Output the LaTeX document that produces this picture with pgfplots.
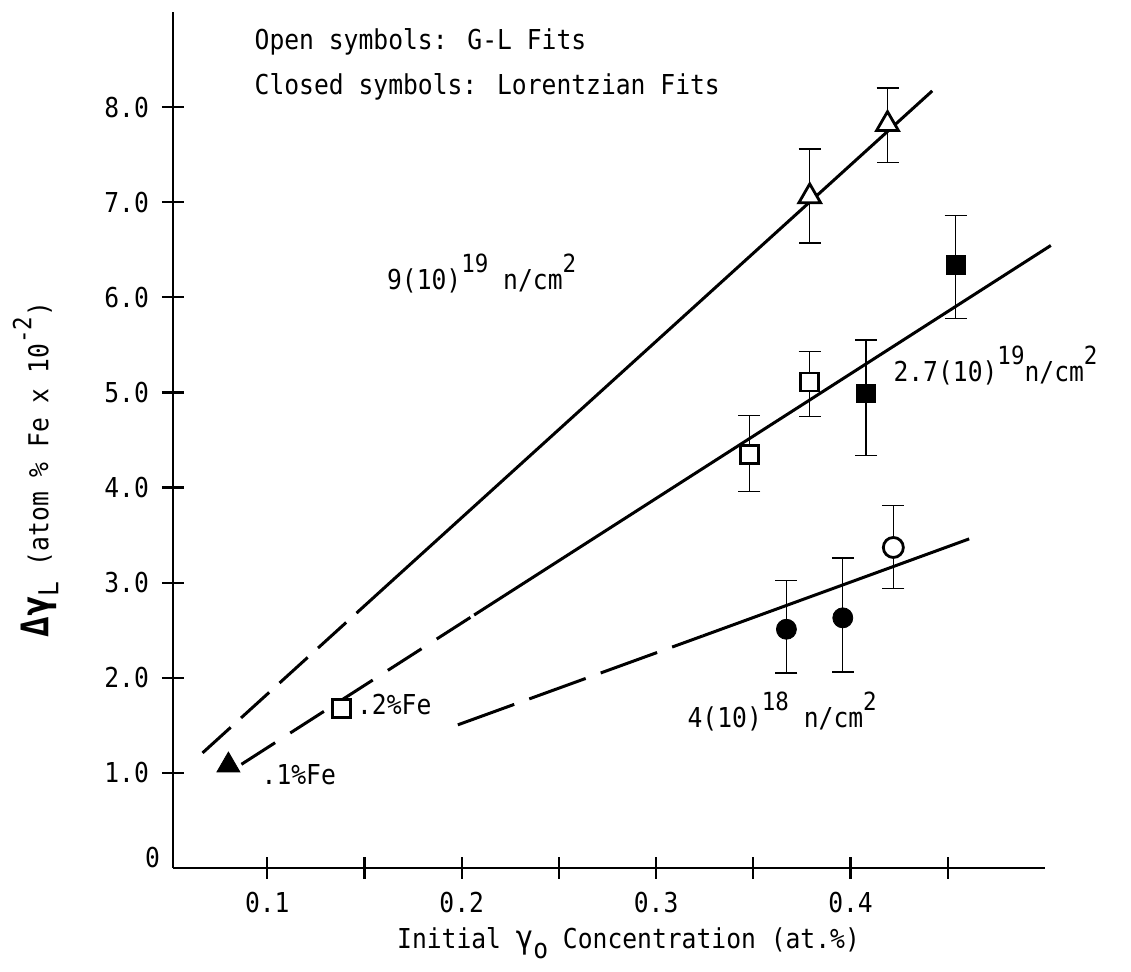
\documentclass[border=0pt]{standalone}
\usepackage{fontspec}
\setmainfont[FakeStretch=0.9]{DejaVu Sans Mono}
\usepackage{pgfplots}
\pgfplotsset{compat=1.18}

\newcommand{\up}[1]{\raisebox{8.5pt}{\fontsize{12.5}{14}\selectfont #1}}

\begin{document}
\begin{tikzpicture}[font=\fontsize{13.7}{16}\selectfont]
\begin{axis}[
  name=main,
  scale only axis, width=436pt, height=428pt,
  xmin=0.0515, xmax=0.5, ymin=0, ymax=9,
  axis lines=left,
  axis line style={-, line width=1.3pt},
  clip=false,
  xtick={0.1,0.15,0.2,0.25,0.3,0.35,0.4,0.45},
  xticklabels={0.1,,0.2,,0.3,,0.4,},
  ytick={1,2,3,4,5,6,7,8},
  yticklabels={1.0,2.0,3.0,4.0,5.0,6.0,7.0,8.0},
  extra y ticks={0}, extra y tick labels={0},
  extra y tick style={major tick length=0pt, yticklabel style={yshift=5pt}},
  tick align=center, major tick length=11pt,
  tick style={line width=1.1pt, black},
  /pgf/number format/assume math mode=true,
  tick label style={font=\fontsize{13.7}{16}\selectfont},
  xticklabel style={yshift=-3pt},
  yticklabel style={xshift=-3pt},
]
% fit lines: dashed extrapolation, solid fit
\addplot[no marks, line width=1.5pt, dash pattern=on 19pt off 7pt] coordinates {(0.0667,1.21) (0.158,2.905)};
\addplot[no marks, line width=1.5pt] coordinates {(0.158,2.905) (0.442,8.17)};
\addplot[no marks, line width=1.5pt, dash pattern=on 20pt off 9pt] coordinates {(0.0867,1.09) (0.2064,2.66)};
\addplot[no marks, line width=1.5pt] coordinates {(0.2064,2.66) (0.503,6.545)};
\addplot[no marks, line width=1.5pt, dash pattern=on 30pt off 8pt] coordinates {(0.198,1.505) (0.324,2.44)};
\addplot[no marks, line width=1.5pt] coordinates {(0.324,2.44) (0.461,3.46)};

% error bars
\addplot[only marks, mark=none,
  error bars/.cd, y dir=both, y explicit,
  error bar style={line width=0.7pt, black},
  error mark options={rotate=90, mark size=5.5pt, line width=0.7pt, black}]
coordinates {
  (0.379,7.06) += (0,0.50) -= (0,0.49)
  (0.419,7.82) += (0,0.38) -= (0,0.40)
  (0.348,4.35) += (0,0.41) -= (0,0.39)
  (0.379,5.11) += (0,0.32) -= (0,0.36)
  (0.408,4.99) += (0,0.56) -= (0,0.65)
  (0.454,6.34) += (0,0.52) -= (0,0.56)
  (0.367,2.51) += (0,0.51) -= (0,0.46)
  (0.396,2.63) += (0,0.63) -= (0,0.57)
  (0.422,3.37) += (0,0.44) -= (0,0.43)
};

% open symbols (G-L fits)
\addplot[only marks, mark=triangle*, mark size=6.3pt, mark options={line width=1.4pt, draw=black, fill=white}]
  coordinates {(0.379,7.06) (0.419,7.82)};
\addplot[only marks, mark=square*, mark size=4.5pt, mark options={line width=1.4pt, draw=black, fill=white}]
  coordinates {(0.348,4.35) (0.379,5.11) (0.138,1.68)};
\addplot[only marks, mark=*, mark size=5pt, mark options={line width=1.4pt, draw=black, fill=white}]
  coordinates {(0.422,3.37)};
% closed symbols (Lorentzian fits)
\addplot[only marks, mark=square*, mark size=4.7pt, mark options={draw=black, fill=black}]
  coordinates {(0.408,4.99) (0.454,6.34)};
\addplot[only marks, mark=*, mark size=5pt, mark options={draw=black, fill=black}]
  coordinates {(0.367,2.51) (0.396,2.63)};
\addplot[only marks, mark=triangle*, mark size=6.6pt, mark options={draw=black, fill=black}]
  coordinates {(0.08,1.08)};

% annotations
\node[anchor=base west, inner sep=0] at (axis cs:0.0933,8.61) {Open symbols: G-L Fits};
\node[anchor=base west, inner sep=0] at (axis cs:0.0933,8.137) {Closed symbols: Lorentzian Fits};
\node[anchor=base west, inner sep=0] at (axis cs:0.1614,6.08) {9(10)\up{19} n/cm\up{2}};
\node[anchor=base west, inner sep=0] at (axis cs:0.4219,5.116) {2.7(10)\up{19}n/cm\up{2}};
\node[anchor=base west, inner sep=0] at (axis cs:0.316,1.474) {4(10)\up{18} n/cm\up{2}};
\node[anchor=base west, inner sep=0] at (axis cs:0.146,1.61) {.2\%Fe};
\node[anchor=base west, inner sep=0] at (axis cs:0.0969,0.874) {.1\%Fe};

% axis titles
\node[anchor=center, inner sep=0] at (axis cs:0.2858,-0.79)
  {Initial {\fontsize{16}{16}\selectfont γ}\raisebox{-5pt}{o} Concentration (at.\%)};
\node[anchor=center, rotate=90, inner sep=0] at (axis cs:-0.0192,4.19)
  {{\fontsize{19}{19}\selectfont\bfseries Δγ}\raisebox{-5pt}{L} (atom \% Fe x 10\up{-2})};
\end{axis}
\pgfresetboundingbox
\path[use as bounding box] ([shift={(-86.5pt,-52pt)}]main.south west) rectangle ([shift={(479pt,434pt)}]main.south west);
\end{tikzpicture}
\end{document}
